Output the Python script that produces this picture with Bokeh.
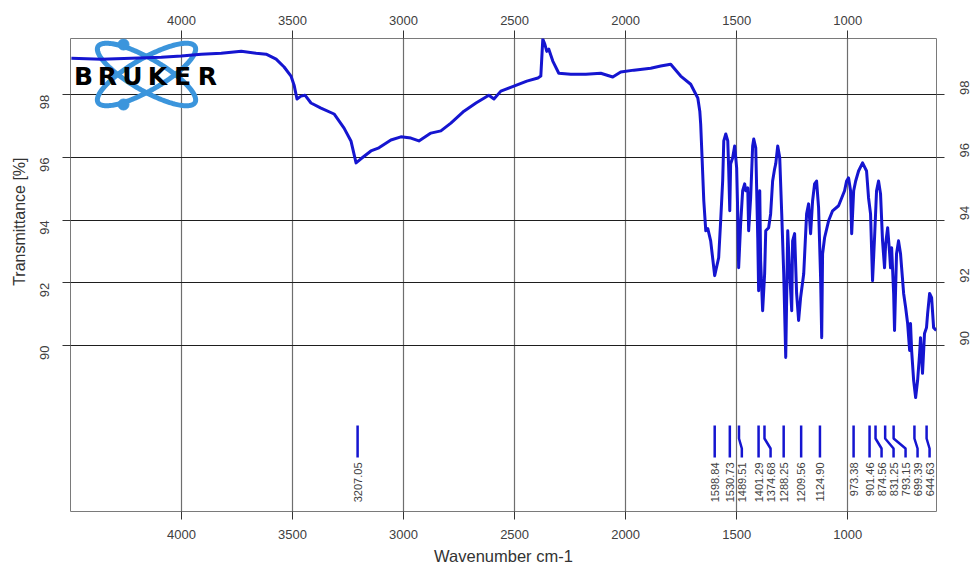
import numpy as np
from bokeh.plotting import figure
from bokeh.models import Range1d, LinearAxis, FixedTicker
from bokeh.core.properties import value
from bokeh.embed import file_html
from bokeh.resources import INLINE

# ---------------- data ----------------
wavenumber = [4496, 4361, 4226, 4091, 4001, 3911, 3821, 3731, 3664, 3619,
              3574, 3538, 3507, 3493, 3480, 3462, 3444, 3417, 3372, 3313,
              3268, 3237, 3214, 3192, 3147, 3111, 3057, 3012, 2967, 2931,
              2877, 2832, 2787, 2728, 2674, 2616, 2593, 2562, 2503, 2445,
              2395, 2382, 2373, 2364, 2355, 2346, 2328, 2301, 2247, 2179,
              2112, 2058, 2022, 1963, 1887, 1842, 1797, 1752, 1707, 1675,
              1666, 1662, 1657, 1648, 1639, 1630, 1617, 1603, 1599, 1581,
              1572, 1563, 1558, 1549, 1540, 1536, 1531, 1527, 1518, 1509,
              1500, 1495, 1491, 1482, 1473, 1464, 1459, 1450, 1446, 1437,
              1428, 1423, 1414, 1405, 1401, 1396, 1392, 1383, 1374, 1369,
              1356, 1347, 1338, 1329, 1324, 1315, 1306, 1297, 1288, 1279,
              1270, 1261, 1252, 1248, 1239, 1230, 1221, 1212, 1198, 1185,
              1176, 1167, 1158, 1149, 1140, 1131, 1122, 1117, 1113, 1104,
              1086, 1068, 1041, 1014, 1005, 996, 987, 982, 973, 964,
              951, 933, 915, 906, 897, 888, 879, 870, 861, 852,
              843, 834, 829, 820, 811, 807, 802, 793, 789, 780,
              771, 762, 748, 739, 730, 721, 717, 712, 703, 694,
              685, 676, 672, 663, 654, 645, 640, 631, 622, 613,
              601]
transmittance = [99.17, 99.14, 99.17, 99.20, 99.24, 99.30, 99.33, 99.39, 99.33, 99.30,
                 99.14, 98.89, 98.60, 98.31, 97.87, 97.96, 97.99, 97.74, 97.58, 97.39,
                 96.94, 96.53, 95.83, 95.96, 96.21, 96.31, 96.56, 96.66, 96.62, 96.53,
                 96.78, 96.85, 97.10, 97.48, 97.74, 97.99, 97.87, 98.12, 98.28, 98.44,
                 98.54, 98.60, 99.78, 99.62, 99.39, 99.46, 99.08, 98.69, 98.66, 98.66,
                 98.69, 98.57, 98.73, 98.79, 98.85, 98.92, 98.98, 98.60, 98.34, 97.90,
                 97.48, 97.07, 96.21, 94.62, 93.66, 93.73, 93.34, 92.48, 92.23, 92.80,
                 93.98, 95.25, 96.53, 96.75, 96.53, 95.67, 94.30, 95.80, 95.99, 96.37,
                 95.67, 94.20, 92.48, 93.89, 94.94, 95.16, 94.94, 95.03, 93.66, 94.71,
                 96.37, 96.59, 96.31, 93.44, 91.75, 94.94, 92.71, 91.11, 92.29, 93.66,
                 93.76, 94.20, 95.25, 95.64, 95.80, 96.37, 95.99, 94.20, 92.29, 89.62,
                 93.66, 92.29, 91.11, 93.34, 93.57, 91.66, 90.80, 91.53, 92.29, 94.20,
                 94.52, 93.57, 94.62, 95.16, 95.25, 94.39, 92.17, 90.25, 92.93, 93.44,
                 93.98, 94.30, 94.46, 94.94, 95.25, 95.35, 94.94, 93.57, 94.94, 95.25,
                 95.57, 95.83, 95.57, 94.71, 94.20, 92.07, 93.44, 94.94, 95.25, 94.84,
                 93.34, 92.48, 93.25, 93.76, 92.93, 92.48, 93.12, 91.66, 90.48, 92.93,
                 93.34, 92.93, 91.66, 91.21, 90.70, 89.84, 90.70, 89.84, 88.89, 88.34,
                 88.89, 89.75, 90.25, 89.11, 90.38, 90.57, 91.02, 91.66, 91.53, 90.57,
                 90.48]
peaks = [3207.05, 1598.84, 1530.73, 1489.51, 1401.29, 1374.68, 1288.25, 1209.56,
         1124.90, 973.38, 901.46, 874.56, 831.25, 793.15, 699.39, 644.63]
x_ticks = [1000, 1500, 2000, 2500, 3000, 3500, 4000]
y_ticks = [90, 92, 94, 96, 98]
x_title = "Wavenumber cm-1"
y_title = "Transmittance [%]"

# ---------------- layout / style ----------------
X_START, X_END = 4500, 600
Y_START, Y_END = 84.7, 99.8
FRAME_W, FRAME_H = 866, 473
BL, BR, BT, BB = 70, 41, 38, 58
BLUE = "#1515d0"
LOGO_BLUE = "#3b95dc"
FONT = "Liberation Sans"

ux = (X_START - X_END) / FRAME_W      # wavenumber units per pixel
uy = (Y_END - Y_START) / FRAME_H      # % units per pixel


def px_to_data(px, py):
    return X_START - (np.asarray(px) - BL) * ux, Y_END - (np.asarray(py) - BT) * uy


p = figure(frame_width=FRAME_W, frame_height=FRAME_H,
           x_range=Range1d(X_START, X_END), y_range=Range1d(Y_START, Y_END),
           output_backend="svg", toolbar_location=None,
           min_border_left=BL, min_border_right=BR,
           min_border_top=BT, min_border_bottom=BB,
           background_fill_color="white", border_fill_color="white")
p.outline_line_color = "#7a7a7a"
p.outline_line_width = 1

top_axis = LinearAxis()
right_axis = LinearAxis()
p.add_layout(top_axis, "above")
p.add_layout(right_axis, "right")


def style_axis(ax, ticks, vertical):
    ax.ticker = FixedTicker(ticks=ticks)
    ax.minor_tick_line_color = None
    ax.major_tick_in = 0
    ax.major_tick_out = 8
    ax.major_tick_line_color = "#333333"
    ax.axis_line_color = None
    ax.major_label_text_font = FONT
    ax.major_label_text_font_size = "13px"
    ax.major_label_text_color = "#404040"
    ax.axis_label_text_font = FONT
    ax.axis_label_text_font_size = "16.5px"
    ax.axis_label_text_font_style = "normal"
    ax.axis_label_text_color = "#333333"
    if vertical:
        ax.major_label_orientation = np.pi / 2


for ax in p.xaxis:
    style_axis(ax, x_ticks, False)
for ax in p.yaxis:
    style_axis(ax, y_ticks, True)

p.below[0].axis_label = x_title
p.below[0].major_label_standoff = 10
p.below[0].axis_label_standoff = 5
top_axis.major_label_standoff = 6
p.left[0].major_label_standoff = 18
right_axis.major_label_standoff = 20
# the OPUS title sits centred over the spectrum area (above the peak table):
# shift it up with leading non-breaking spaces
p.left[0].axis_label = "\u00a0" * 24 + y_title
p.left[0].axis_label_text_font_size = "16px"
p.left[0].axis_label_standoff = 5

p.xgrid.ticker = FixedTicker(ticks=x_ticks)
p.xgrid.grid_line_color = "#6e6e6e"
p.xgrid.grid_line_width = 1.2
p.ygrid.ticker = FixedTicker(ticks=y_ticks)
p.ygrid.grid_line_color = "#1e1e1e"
p.ygrid.grid_line_width = 1

# ---------------- logo (decoration) ----------------
t = np.linspace(0, 2 * np.pi, 200)
a, b = 56, 16
cx, cy = 146, 74
for th in (np.radians(30), np.radians(-30)):
    dx = a * np.cos(t) * np.cos(th) - b * np.sin(t) * np.sin(th)
    dy = a * np.cos(t) * np.sin(th) + b * np.sin(t) * np.cos(th)
    ex, ey = px_to_data(cx + dx, cy + dy)
    p.line(ex, ey, line_color=LOGO_BLUE, line_width=5)
dxs, dys = px_to_data([123, 123], [44, 104])
p.scatter(dxs, dys, size=11, color=LOGO_BLUE)

# ---------------- spectrum ----------------
p.line(wavenumber, transmittance, line_color=BLUE, line_width=3, line_join="round")

# BRUKER letters
lx, ly = px_to_data([83, 107, 132, 157, 182, 207], [76] * 6)
p.text(lx, ly, text=list("BRUKER"), text_font=value("DejaVu Sans"),
       text_font_style="bold", text_font_size="25px", text_color="black",
       text_align="center", text_baseline="middle")

# ---------------- peak labels ----------------
gap = 12 * ux
label_pos = []
ordered = sorted(peaks, reverse=True)
for pk in ordered:
    pos = pk if not label_pos else min(pk, label_pos[-1] - gap)
    label_pos.append(pos)

y_top, y_b1, y_b2, y_bot, y_txt = px_to_data([0] * 5, [425, 438, 448, 457, 462])[1]
xs, ys = [], []
for pk, lp in zip(ordered, label_pos):
    xs.append([pk, pk, lp, lp])
    ys.append([y_top, y_b1, y_b2, y_bot])
p.multi_line(xs, ys, line_color=BLUE, line_width=2.5)
p.text(label_pos, [y_txt] * len(label_pos), text=["%.2f" % v for v in ordered],
       angle=np.pi / 2, text_align="right", text_baseline="middle",
       text_font=value(FONT), text_font_size="11px", text_color="#404040")

open("out.html", "w").write(file_html(p, INLINE))
